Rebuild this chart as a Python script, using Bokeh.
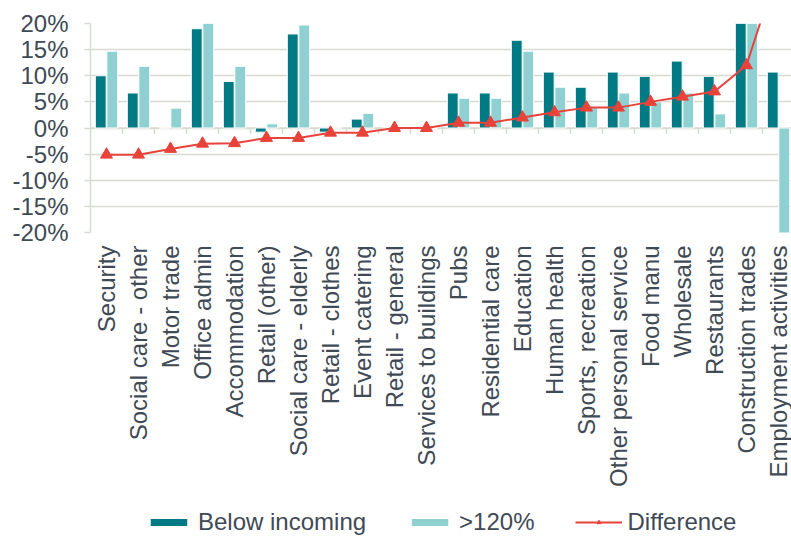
from math import pi
from bokeh.plotting import figure
from bokeh.layouts import column
from bokeh.models import (Range1d, FixedTicker, PrintfTickFormatter, Legend,
                          LegendItem, ColumnDataSource, Span)
from bokeh.embed import file_html
from bokeh.resources import INLINE

categories = ["Security", "Social care - other", "Motor trade", "Office admin",
              "Accommodation", "Retail (other)", "Social care - elderly",
              "Retail - clothes", "Event catering", "Retail - general",
              "Services to buildings", "Pubs", "Residential care", "Education",
              "Human health", "Sports, recreation", "Other personal service",
              "Food manu", "Wholesale", "Restaurants", "Construction trades",
              "Employment activities"]
below_incoming = [10.0, 6.7, 0.0, 19.0, 8.9, -0.8, 18.0, -0.8, 1.7, 0.0, 0.0,
                  6.7, 6.7, 16.8, 10.7, 7.8, 10.7, 9.9, 12.8, 9.9, 38.0, 10.7]
over_120 = [14.7, 11.8, 3.8, 22.0, 11.8, 0.8, 19.7, 0.0, 2.8, 0.0, 0.0,
            5.7, 5.7, 14.7, 7.8, 4.0, 6.7, 5.0, 6.7, 2.7, 26.0, -20.5]
difference = [-5.1, -5.1, -4.0, -3.0, -2.9, -1.9, -1.9, -0.9, -0.9, 0.0, 0.0,
              1.0, 1.0, 2.0, 3.0, 3.9, 3.9, 5.0, 6.0, 7.0, 12.0, 31.0]
y_ticks = [-20, -15, -10, -5, 0, 5, 10, 15, 20]
series_names = ["Below incoming", ">120%", "Difference"]

DARK = "#007A84"
LIGHT = "#8FD1D3"
RED = "#E8433A"
GRID = "#D6DCD4"
TEXT = "#404A54"
FONT = "Liberation Sans"

n = len(categories)
centers = [i + 0.5 for i in range(n)]
src = ColumnDataSource(dict(
    x=centers,
    xd=[c - 0.18 for c in centers],
    xl=[c + 0.18 for c in centers],
    below=below_incoming,
    over=over_120,
    diff=difference,
))

p = figure(width=791, height=504, x_range=Range1d(0, 21.906),
           y_range=Range1d(y_ticks[0], y_ticks[-1]),
           output_backend="svg", toolbar_location=None,
           min_border_left=90, min_border_right=0, min_border_top=23,
           min_border_bottom=272, outline_line_color=None)

# grid
p.xgrid.visible = False
p.ygrid.ticker = FixedTicker(ticks=y_ticks)
p.ygrid.grid_line_color = GRID
p.ygrid.grid_line_width = 1.5

zero = Span(location=0, dimension="width", line_color=GRID, line_width=1.5,
            level="underlay")
p.add_layout(zero)
bounds = list(range(n + 1))
p.segment(x0=bounds, y0=[0] * len(bounds), x1=bounds,
          y1=[-1.15] * len(bounds), line_color=GRID, line_width=1.5,
          level="underlay")

bar_style = dict(width=0.34, line_color="white", line_width=1)
p.vbar(x="xd", top="below", bottom=0, source=src, fill_color=DARK, **bar_style)
p.vbar(x="xl", top="over", bottom=0, source=src, fill_color=LIGHT, **bar_style)
line_style = dict(line_color=RED, line_width=2)
pt_style = dict(marker="triangle", size=12, fill_color=RED, line_color=RED)
p.line(x="x", y="diff", source=src, **line_style)
p.scatter(x="x", y="diff", source=src, **pt_style)

# y axis
ya = p.yaxis[0]
ya.ticker = FixedTicker(ticks=y_ticks, minor_ticks=[])
ya.formatter = PrintfTickFormatter(format="%d%%")
ya.axis_line_color = GRID
ya.axis_line_width = 1.5
ya.major_tick_line_color = GRID
ya.major_tick_line_width = 1.5
ya.major_tick_out = 6
ya.major_tick_in = 0
ya.minor_tick_line_color = None
ya.major_label_standoff = 16
ya.major_label_text_font = FONT
ya.major_label_text_font_size = "24px"
ya.major_label_text_color = TEXT

# x axis
xa = p.xaxis[0]
xa.ticker = FixedTicker(ticks=centers, minor_ticks=[])
xa.major_label_overrides = {c: name for c, name in zip(centers, categories)}
xa.major_label_orientation = pi / 2
xa.axis_line_color = None
xa.major_tick_line_color = None
xa.minor_tick_line_color = None
xa.major_label_standoff = 7
xa.major_label_text_font = FONT
xa.major_label_text_font_size = "24px"
xa.major_label_text_color = TEXT

# legend strip under the chart (its glyphs sit outside its visible range)
lg = figure(width=791, height=32, output_backend="svg", toolbar_location=None,
            x_axis_type=None, y_axis_type=None, outline_line_color=None,
            min_border_left=0, min_border_right=0, min_border_top=0,
            min_border_bottom=0, x_range=Range1d(0, 1),
            y_range=Range1d(1000, 1001))
lg.grid.visible = False
l_dark = lg.vbar(x="xd", top="below", bottom=0, source=src, fill_color=DARK,
                 **bar_style)
l_light = lg.vbar(x="xl", top="over", bottom=0, source=src, fill_color=LIGHT,
                  **bar_style)
l_line = lg.line(x="x", y="diff", source=src, **line_style)
l_pts = lg.scatter(x="x", y="diff", source=src, **pt_style)

legend = Legend(items=[
    LegendItem(label=series_names[0], renderers=[l_dark]),
    LegendItem(label=series_names[1], renderers=[l_light]),
    LegendItem(label=series_names[2], renderers=[l_line, l_pts]),
], location=(55, 0), orientation="horizontal", glyph_width=47,
    glyph_height=10, label_standoff=6, spacing=40, padding=0, margin=0,
    border_line_color=None, background_fill_alpha=0,
    label_text_font=FONT, label_text_font_size="24px",
    label_text_color=TEXT)
lg.add_layout(legend)

layout = column(p, lg, spacing=0)
open("out.html", "w").write(file_html(layout, INLINE))
